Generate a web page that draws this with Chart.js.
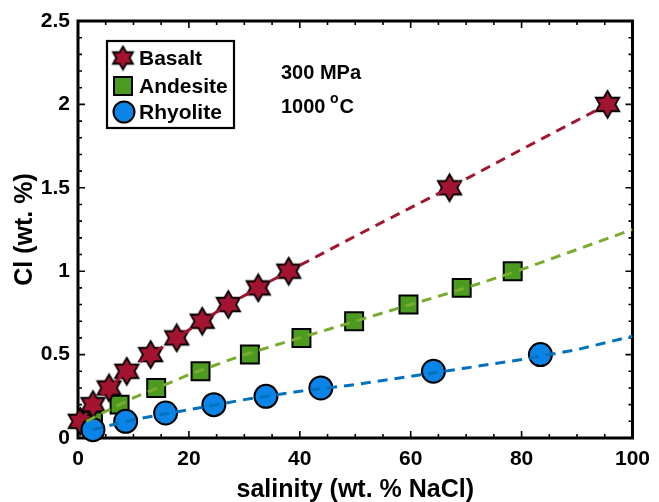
<!DOCTYPE html>
<html>
<head>
<meta charset="UTF-8">
<title>Cl vs salinity</title>
<style>
  body { margin: 0; background: #fff; }
  #wrap { width: 659px; height: 502px; }
</style>
<script src="https://cdn.jsdelivr.net/npm/chart.js"></script>
</head>
<body>
<div id="wrap"><canvas id="clChart" width="659" height="502"></canvas></div>
<script>
// measured points: salinity (wt.% NaCl) vs Cl (wt.%)
const basaltX = [0.4, 2.7, 5.6, 8.8, 13.1, 17.8, 22.4, 27.1, 32.5, 38.0, 67.0, 95.5];
const basaltY = [0.1, 0.2, 0.3, 0.4, 0.5, 0.6, 0.7, 0.8, 0.9, 1.0, 1.5, 2.0];
const andesiteX = [2.7, 7.5, 14.1, 22.1, 31.0, 40.3, 49.8, 59.6, 69.2, 78.4];
const andesiteY = [0.1, 0.2, 0.3, 0.4, 0.5, 0.6, 0.7, 0.8, 0.9, 1.0];
const rhyoliteX = [2.7, 8.6, 15.8, 24.5, 33.9, 43.8, 64.1, 83.4];
const rhyoliteY = [0.05, 0.1, 0.15, 0.2, 0.25, 0.3, 0.4, 0.5];

// dashed fit curves
const basaltFitX = [0.4, 2.7, 5.6, 8.8, 13.1, 17.8, 22.4, 27.1, 32.5, 38.0, 50, 67.0, 80, 95.5];
const basaltFitY = [0.1, 0.2, 0.3, 0.4, 0.5, 0.6, 0.7, 0.8, 0.9, 1.0, 1.21, 1.5, 1.73, 2.0];
const andesiteFitX = [1.5, 5, 10, 20, 30, 40, 50, 60, 70, 80, 90, 100];
const andesiteFitY = [0.1, 0.16, 0.24, 0.38, 0.5, 0.6, 0.7, 0.8, 0.9, 1.01, 1.13, 1.25];
const rhyoliteFitX = [2.7, 10, 20, 30, 40, 50, 60, 70, 80, 90, 100];
const rhyoliteFitY = [0.05, 0.11, 0.17, 0.23, 0.28, 0.32, 0.37, 0.42, 0.47, 0.53, 0.61];

const xMajor = 20, xMinor = 5;
const yMajor = 0.5, yMinor = 0.1;

const seriesNames = ['Basalt', 'Andesite', 'Rhyolite'];

function pts(xs, ys) {
  return xs.map((x, i) => ({ x: x, y: ys[i] }));
}

// six pointed star marker
function hexagram(R) {
  const c = document.createElement('canvas');
  const s = Math.ceil(R * 2 + 4);
  c.width = s; c.height = s;
  const g = c.getContext('2d');
  const r = R / Math.sqrt(3);
  g.translate(s / 2, s / 2);
  g.beginPath();
  for (let k = 0; k < 12; k++) {
    const ang = -Math.PI / 2 + k * Math.PI / 6;
    const rr = k % 2 === 0 ? R : r;
    const px = rr * Math.cos(ang), py = rr * Math.sin(ang);
    if (k === 0) g.moveTo(px, py); else g.lineTo(px, py);
  }
  g.closePath();
  g.fillStyle = '#A2142F';
  g.fill();
  g.lineWidth = 1.8;
  g.lineJoin = 'miter';
  g.strokeStyle = '#000';
  g.stroke();
  return c;
}
const starImg = hexagram(13.5);
const legendStar = hexagram(11.5);

const boxTicks = {
  id: 'boxTicks',
  beforeDatasetsDraw(chart) {
    const { ctx, chartArea: a, scales: { x, y } } = chart;
    ctx.save();
    ctx.strokeStyle = '#000';
    ctx.lineWidth = 1.6;
    ctx.beginPath();
    for (let v = 0; v <= 100; v += xMinor) {
      const px = x.getPixelForValue(v);
      const len = v % xMajor === 0 ? 7 : 4;
      ctx.moveTo(px, a.bottom); ctx.lineTo(px, a.bottom - len);
      ctx.moveTo(px, a.top); ctx.lineTo(px, a.top + len);
    }
    for (let i = 0; i <= 25; i++) {
      const py = y.getPixelForValue(i * yMinor);
      const len = i % Math.round(yMajor / yMinor) === 0 ? 7 : 4;
      ctx.moveTo(a.left, py); ctx.lineTo(a.left + len, py);
      ctx.moveTo(a.right, py); ctx.lineTo(a.right - len, py);
    }
    ctx.stroke();
    ctx.lineWidth = 3;
    ctx.strokeRect(a.left, a.top, a.right - a.left, a.bottom - a.top);
    ctx.restore();
  }
};

const boxLegend = {
  id: 'boxLegend',
  afterDraw(chart) {
    const ctx = chart.ctx;
    ctx.save();
    ctx.fillStyle = '#fff';
    ctx.fillRect(107, 41, 127, 87);
    ctx.lineWidth = 2.2;
    ctx.strokeStyle = '#000';
    ctx.strokeRect(107, 41, 127, 87);
    const rows = [58, 86, 112];
    const mx = 123;
    // star
    ctx.drawImage(legendStar, mx - legendStar.width / 2, rows[0] - legendStar.height / 2);
    // square
    ctx.fillStyle = '#4C9A1F';
    ctx.lineWidth = 2;
    ctx.fillRect(mx - 9, rows[1] - 9, 18, 18);
    ctx.strokeRect(mx - 9, rows[1] - 9, 18, 18);
    // circle
    ctx.beginPath();
    ctx.arc(mx + 1, rows[2], 10.5, 0, Math.PI * 2);
    ctx.fillStyle = '#0A84E6';
    ctx.fill();
    ctx.stroke();
    ctx.fillStyle = '#000';
    ctx.font = 'bold 21px "Liberation Sans", Arial, sans-serif';
    ctx.textBaseline = 'middle';
    ctx.textAlign = 'left';
    seriesNames.forEach((n, i) => ctx.fillText(n, 139, rows[i] + 1));
    // conditions
    ctx.font = 'bold 20px "Liberation Sans", Arial, sans-serif';
    ctx.fillText('300 MPa', 281, 73);
    const t = '1000 ';
    ctx.fillText(t, 281, 107);
    const w = ctx.measureText(t).width;
    ctx.font = 'bold 14px "Liberation Sans", Arial, sans-serif';
    ctx.fillText('o', 281 + w - 1, 99);
    const w2 = ctx.measureText('o').width;
    ctx.font = 'bold 20px "Liberation Sans", Arial, sans-serif';
    ctx.fillText('C', 281 + w - 1 + w2 + 1, 107);
    ctx.restore();
  }
};

const tickFont = { family: '"Liberation Sans", Arial, sans-serif', size: 21, weight: 'bold' };
const titleFont = { family: '"Liberation Sans", Arial, sans-serif', size: 25, weight: 'bold' };

new Chart(document.getElementById('clChart'), {
  type: 'scatter',
  data: {
    datasets: [
      { label: 'Basalt fit', data: pts(basaltFitX, basaltFitY), showLine: true, borderColor: '#A2142F',
        borderWidth: 3, borderDash: [10, 7], pointRadius: 0, order: 0 },
      { label: 'Andesite fit', data: pts(andesiteFitX, andesiteFitY), showLine: true, borderColor: '#77AC30',
        borderWidth: 3, borderDash: [10, 7], pointRadius: 0, order: 0 },
      { label: 'Rhyolite fit', data: pts(rhyoliteFitX, rhyoliteFitY), showLine: true, borderColor: '#0072BD',
        borderWidth: 3, borderDash: [10, 7], pointRadius: 0, order: 0 },
      { label: 'Rhyolite', data: pts(rhyoliteX, rhyoliteY), pointStyle: 'circle', pointRadius: 11.5,
        backgroundColor: '#0A84E6', borderColor: '#000', borderWidth: 2, clip: false, order: 1 },
      { label: 'Basalt', data: pts(basaltX, basaltY), pointStyle: starImg, pointRadius: 13,
        clip: false, order: 2 },
      { label: 'Andesite', data: pts(andesiteX, andesiteY), pointStyle: 'rect', pointRadius: 12.7,
        backgroundColor: '#4C9A1F', borderColor: '#000', borderWidth: 2, clip: false, order: 3 }
    ]
  },
  options: {
    responsive: false,
    animation: false,
    devicePixelRatio: 1,
    layout: { padding: { top: 21, right: 21, left: 0, bottom: 0 } },
    plugins: { legend: { display: false }, tooltip: { enabled: false } },
    scales: {
      x: {
        type: 'linear', min: 0, max: 100,
        ticks: { stepSize: xMajor, color: '#000', font: tickFont, padding: 9, maxRotation: 0,
          callback: v => String(v) },
        grid: { display: false, drawTicks: false },
        border: { display: false },
        title: { display: true, text: 'salinity (wt. % NaCl)', color: '#000', font: titleFont, padding: { top: 0, bottom: -3 } },
        afterFit: s => { s.height = 64; }
      },
      y: {
        type: 'linear', min: 0, max: 2.5,
        ticks: { stepSize: yMajor, color: '#000', font: tickFont, padding: 8,
          callback: v => String(v) },
        grid: { display: false, drawTicks: false },
        border: { display: false },
        title: { display: true, text: 'Cl (wt. %)', color: '#000', font: titleFont, padding: { top: 10, bottom: 0 } },
        afterFit: s => { s.width = 78; }
      }
    }
  },
  plugins: [boxTicks, boxLegend]
});
</script>
</body>
</html>
